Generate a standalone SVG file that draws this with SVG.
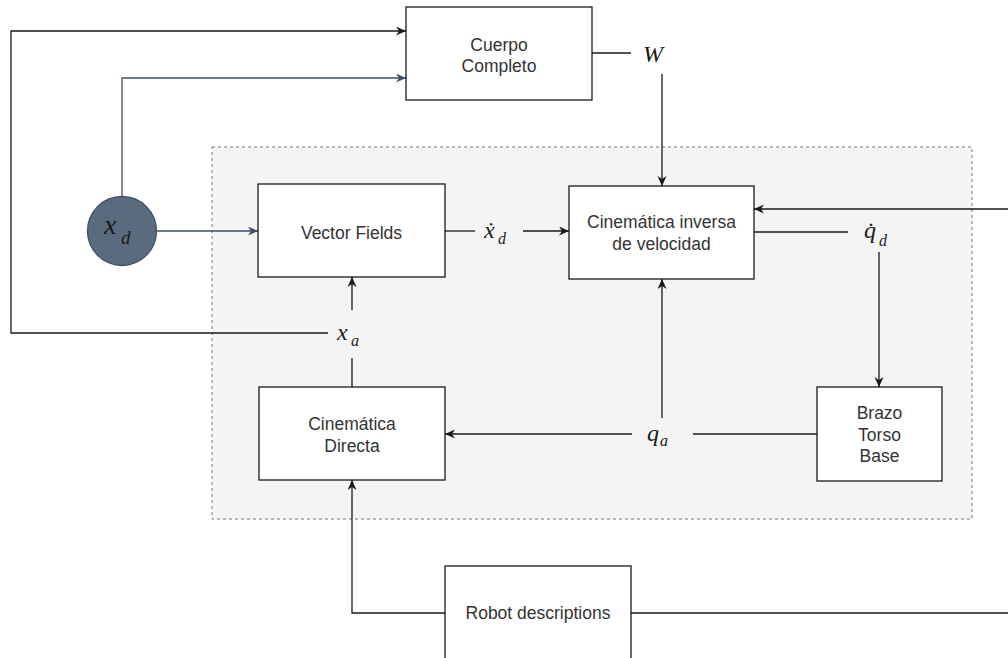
<svg xmlns="http://www.w3.org/2000/svg" width="1008" height="658" viewBox="0 0 1008 658">
  <style>
    .box { fill: #ffffff; stroke: #1a1a1a; stroke-width: 1.3; }
    .lbl { font-family: "Liberation Sans", Arial, sans-serif; font-size: 17.5px; fill: #333333; text-anchor: middle; }
    .math { font-family: "Liberation Serif", "DejaVu Serif", serif; font-style: italic; fill: #1a1a1a; font-size: 24px; }
    .sub { font-size: 16px; }
    .wire { fill: none; stroke: #1a1a1a; stroke-width: 1.3; }
    .wire-blue { fill: none; stroke: #3d5066; stroke-width: 1.3; }
  </style>
  <defs>
    <marker id="arr" markerUnits="userSpaceOnUse" markerWidth="12" markerHeight="10" refX="10" refY="4.5" orient="auto">
      <path d="M0,0 L10,4.5 L0,9 L3,4.5 Z" fill="#1a1a1a"/>
    </marker>
    <marker id="arr-blue" markerUnits="userSpaceOnUse" markerWidth="12" markerHeight="10" refX="10" refY="4.5" orient="auto">
      <path d="M0,0 L10,4.5 L0,9 L3,4.5 Z" fill="#3d5066"/>
    </marker>
  </defs>

  <rect width="1008" height="658" fill="#ffffff"/>

  <!-- control loop container -->
  <rect id="container" x="212" y="147" width="760" height="372" fill="#f4f4f4" stroke="#777777" stroke-width="1" stroke-dasharray="3,3"/>

  <g id="connectors">
    <!-- x_a feedback to Cuerpo Completo -->
    <path class="wire" d="M328,333 H11 V31 H406" marker-end="url(#arr)"/>
    <!-- x_d to Cuerpo Completo -->
    <path class="wire-blue" d="M122,196 V78 H406" marker-end="url(#arr-blue)"/>
    <!-- x_d to Vector Fields -->
    <path class="wire-blue" d="M157,231 H258" marker-end="url(#arr-blue)"/>
    <!-- Cuerpo Completo to W -->
    <path class="wire" d="M592,53 H631"/>
    <!-- W to Cinematica inversa -->
    <path class="wire" d="M662,74 V186" marker-end="url(#arr)"/>
    <!-- Vector Fields to x_d dot -->
    <path class="wire" d="M445,231 H475"/>
    <path class="wire" d="M523,231 H569" marker-end="url(#arr)"/>
    <!-- external input into Cinematica inversa -->
    <path class="wire" d="M1008,209 H754" marker-end="url(#arr)"/>
    <!-- Cinematica inversa to q_d dot -->
    <path class="wire" d="M754,232 H848"/>
    <path class="wire" d="M879,252 V387" marker-end="url(#arr)"/>
    <!-- Brazo/Torso/Base to q_a -->
    <path class="wire" d="M817,434 H693"/>
    <path class="wire" d="M632,434 H445" marker-end="url(#arr)"/>
    <path class="wire" d="M662,418 V279" marker-end="url(#arr)"/>
    <!-- Cinematica Directa to x_a -->
    <path class="wire" d="M352,387 V358"/>
    <path class="wire" d="M352,310 V277" marker-end="url(#arr)"/>
    <!-- Robot descriptions -->
    <path class="wire" d="M445,613 H352 V480" marker-end="url(#arr)"/>
    <path class="wire" d="M631,613 H1008"/>
  </g>

  <g id="cuerpo-completo">
    <rect class="box" x="406" y="7" width="186" height="93"/>
    <text class="lbl" x="499" y="51">Cuerpo</text>
    <text class="lbl" x="499" y="72">Completo</text>
  </g>

  <g id="label-w">
    <text class="math" x="643" y="62" font-size="35">W</text>
  </g>

  <g id="xd-node">
    <circle cx="122" cy="231" r="34.5" fill="#5a6b7e" stroke="#3d5066" stroke-width="1.3"/>
    <text class="math" fill="#ffffff"><tspan x="104" y="234" font-size="28">x</tspan><tspan x="121" y="244" font-size="19">d</tspan></text>
  </g>

  <g id="vector-fields">
    <rect class="box" x="258" y="184" width="187" height="93"/>
    <text class="lbl" x="351.5" y="239">Vector Fields</text>
  </g>

  <g id="label-xd-dot">
    <text class="math"><tspan x="484" y="238">ẋ</tspan><tspan class="sub" x="498" y="244">d</tspan></text>
  </g>

  <g id="cinematica-inversa">
    <rect class="box" x="569" y="186" width="185" height="93"/>
    <text class="lbl" x="661.5" y="228">Cinemática inversa</text>
    <text class="lbl" x="661.5" y="250">de velocidad</text>
  </g>

  <g id="label-qd-dot">
    <text class="math"><tspan x="864" y="238">q̇</tspan><tspan class="sub" x="879" y="246">d</tspan></text>
  </g>

  <g id="label-xa">
    <text class="math"><tspan x="337" y="340">x</tspan><tspan class="sub" x="351" y="346">a</tspan></text>
  </g>

  <g id="cinematica-directa">
    <rect class="box" x="259" y="387" width="186" height="93"/>
    <text class="lbl" x="352" y="430">Cinemática</text>
    <text class="lbl" x="352" y="452">Directa</text>
  </g>

  <g id="label-qa">
    <text class="math"><tspan x="647" y="441">q</tspan><tspan class="sub" x="660" y="446">a</tspan></text>
  </g>

  <g id="brazo-torso-base">
    <rect class="box" x="817" y="387" width="125" height="94"/>
    <text class="lbl" x="879.5" y="419">Brazo</text>
    <text class="lbl" x="879.5" y="441">Torso</text>
    <text class="lbl" x="879.5" y="462">Base</text>
  </g>

  <g id="robot-descriptions">
    <rect class="box" x="445" y="566" width="186" height="100"/>
    <text class="lbl" x="538" y="619">Robot descriptions</text>
  </g>
</svg>
